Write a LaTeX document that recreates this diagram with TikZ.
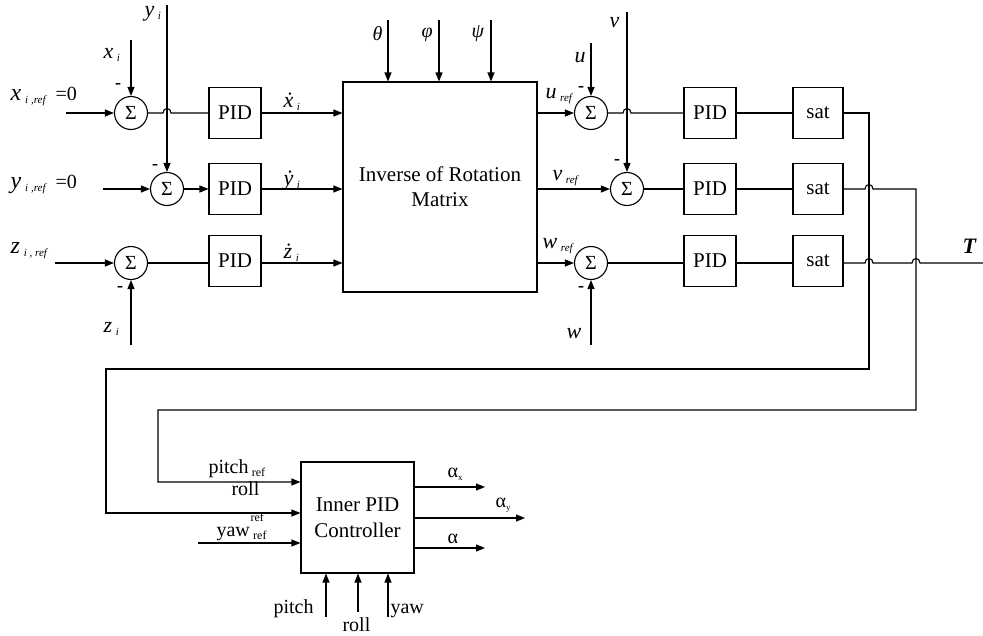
\documentclass[tikz,border=0pt]{standalone}
\usepackage{fontspec}
\setmainfont{Liberation Serif}
\usetikzlibrary{arrows.meta}
\newcommand\sbx[1]{\raisebox{-0.35ex}{\fontsize{11}{12}\selectfont\itshape #1}}
\newcommand\sbu[1]{\raisebox{-0.35ex}{\fontsize{12}{12}\selectfont #1}}
\begin{document}
\begin{tikzpicture}[x=1pt,y=-1pt,line width=1.1pt,>={Triangle[length=9pt,width=7pt]},
  blk/.style={draw,minimum width=52pt,minimum height=51pt,inner sep=0pt,font=\fontsize{21}{22}\selectfont},
  sumn/.style={draw,circle,minimum size=33pt,inner sep=0pt,font=\fontsize{20}{22}\selectfont},
  lbl/.style={inner sep=0pt,anchor=base west,font=\fontsize{22}{24}\selectfont\itshape},
  grk/.style={inner sep=0pt,anchor=base west,font=\fontsize{20}{22}\selectfont\itshape},
  big/.style={inner sep=0pt,anchor=base west,font=\fontsize{24}{26}\selectfont\itshape},
  txt/.style={inner sep=0pt,anchor=base west,font=\fontsize{20}{22}\selectfont},
  mns/.style={inner sep=0pt,font=\fontsize{18}{18}\selectfont\bfseries}]
\useasboundingbox (0,0) rectangle (983,635);
% ---------- left part ----------
\node[sumn] (s1) at (131,113) {Σ};
\node[sumn] (s2) at (167,189) {Σ};
\node[sumn] (s3) at (131,263) {Σ};
\node[blk] (p1) at (235,113) {PID};
\node[blk] (p2) at (235,189) {PID};
\node[blk] (p3) at (235,261) {PID};
\node[draw,minimum width=194pt,minimum height=210pt,inner sep=0pt,align=center,
  font=\fontsize{21}{25}\selectfont] (M) at (440,187) {Inverse of Rotation\\Matrix};
\coordinate (xin) at (66,113);
\coordinate (xtop) at (131,40);
\coordinate (ytop) at (167,5);
\coordinate (yin) at (103,189);
\coordinate (zin) at (55,263);
\coordinate (zbot) at (131,345);
\draw[->] (xin) -- (s1);
\draw[->] (xtop) -- (s1);
\draw[->] (ytop) -- (s2);
\draw (s1) -- (163,113) .. controls (163,107) and (171,107) .. (171,113) -- (p1);
\draw[->] (yin) -- (s2);
\draw[->] (s2) -- (p2);
\draw[->] (zin) -- (s3);
\draw (s3) -- (s3 -| p3.west);
\draw[->] (zbot) -- (s3);
\draw[->] (p1) -- (p1 -| M.west);
\draw[->] (p2) -- (p2 -| M.west);
\draw[->] (p3.east |- s3) -- (s3 -| M.west);
\coordinate (th) at (388,20);
\coordinate (ph) at (439,20);
\coordinate (ps) at (491,20);
\draw[->] (th) -- (th |- M.north);
\draw[->] (ph) -- (ph |- M.north);
\draw[->] (ps) -- (ps |- M.north);
% labels left
\node[big] at (10,100) {x\,\sbx{i ,ref}\ \,{\upshape\fontsize{20}{20}\selectfont =0}};
\node[big] at (10,188) {y\,\sbx{i ,ref}\ \,{\upshape\fontsize{20}{20}\selectfont =0}};
\node[big] at (10,253) {z\,\sbx{i , ref}};
\node[lbl] at (103,58) {x\,\sbx{i}};
\node[lbl] at (144,16) {y\,\sbx{i}};
\node[lbl] at (103,332) {z\,\sbx{i}};
\node[lbl] at (283,107) {x^^^^0307\,\sbx{i}};
\node[lbl] at (283,185) {y^^^^0307\,\sbx{i}};
\node[lbl] at (283,258) {z^^^^0307\,\sbx{i}};
\node[grk] at (372,40) {θ};
\node[grk] at (421,37) {φ};
\node[grk] at (471,37) {ψ};
\node[mns] at (118,86) {-};
\node[mns] at (155,167) {-};
\node[mns] at (120,289) {-};
% ---------- right part ----------
\node[sumn] (s4) at (591,113) {Σ};
\node[sumn] (s5) at (627,189) {Σ};
\node[sumn] (s6) at (591,263) {Σ};
\node[blk] (p4) at (710,113) {PID};
\node[blk] (p5) at (710,189) {PID};
\node[blk] (p6) at (710,261) {PID};
\node[blk,minimum width=50pt] (q1) at (818,113) {sat};
\node[blk,minimum width=50pt] (q2) at (818,189) {sat};
\node[blk,minimum width=50pt] (q3) at (818,261) {sat};
\coordinate (utop) at (591,43);
\coordinate (vtop) at (627,12);
\coordinate (wbot) at (591,345);
\coordinate (Tend) at (983,263);
\draw[->] (M.east |- s4) -- (s4);
\draw[->] (M.east |- s5) -- (s5);
\draw[->] (M.east |- s6) -- (s6);
\draw[->] (utop) -- (s4);
\draw[->] (vtop) -- (s5);
\draw[->] (wbot) -- (s6);
\draw (s4) -- (623,113) .. controls (623,107) and (631,107) .. (631,113) -- (s4 -| p4.west);
\draw (s5) -- (s5 -| p5.west);
\draw (s6) -- (s6 -| p6.west);
\draw (p4) -- (q1);
\draw (p5) -- (q2);
\draw (p6.east |- s6) -- (s6 -| q3.west);
\node[lbl] at (574,62) {u};
\node[lbl] at (609,27) {v};
\node[lbl] at (566,338) {w};
\node[lbl] at (545,98) {u\,\sbx{ref}};
\node[lbl] at (552,180) {v\,\sbx{ref}};
\node[lbl] at (542,248) {w\,\sbx{ref}};
\node[lbl,font=\fontsize{22}{24}\selectfont\bfseries\itshape] at (962,253) {T};
\node[mns] at (581,89) {-};
\node[mns] at (617,162) {-};
\node[mns] at (581,289) {-};
% ---------- inner controller ----------
\node[draw,minimum width=113pt,minimum height=111pt,inner sep=0pt,align=center,
  font=\fontsize{21}{26}\selectfont] (I) at (357.5,517.5) {Inner PID\\Controller};
\coordinate (c1) at (106,513);
\coordinate (c2) at (158,482);
\coordinate (c3) at (198,543);
\draw[->] (q1) -- (869,113) -- (869,369) -- (106,369) -- (c1) -- (c1 -| I.west);
\draw[->] (q2) -- (865,189) .. controls (865,183) and (873,183) .. (873,189) -- (916,189)
  -- (916,410) -- (158,410) -- (c2) -- (c2 -| I.west);
\draw (q3.east |- s6) -- (865,263) .. controls (865,257) and (873,257) .. (873,263) -- (912,263)
  .. controls (912,257) and (920,257) .. (920,263) -- (Tend);
\draw[->] (c3) -- (c3 -| I.west);
\coordinate (ax) at (485,487);
\coordinate (ay) at (525,518);
\coordinate (a0) at (485,548);
\draw[->] (ax -| I.east) -- (ax);
\draw[->] (ay -| I.east) -- (ay);
\draw[->] (a0 -| I.east) -- (a0);
\coordinate (bp) at (326,617);
\coordinate (br) at (358,612);
\coordinate (by) at (388,617);
\draw[->] (bp) -- (bp |- I.south);
\draw[->] (br) -- (br |- I.south);
\draw[->] (by) -- (by |- I.south);
\node[txt] at (208,473) {pitch\,\sbu{ref}};
\node[txt] at (231,495) {roll};
\node[txt] at (250,521) {\fontsize{12}{12}\selectfont ref};
\node[txt] at (216,536) {yaw\,\sbu{ref}};
\node[txt] at (447,477) {α\sbu{\fontsize{9}{9}\selectfont x}};
\node[txt] at (495,507) {α\sbu{\fontsize{9}{9}\selectfont y}};
\node[txt] at (447,543) {α};
\node[txt] at (273,613) {pitch};
\node[txt] at (342,631) {roll};
\node[txt] at (390,613) {yaw};
\end{tikzpicture}
\end{document}
